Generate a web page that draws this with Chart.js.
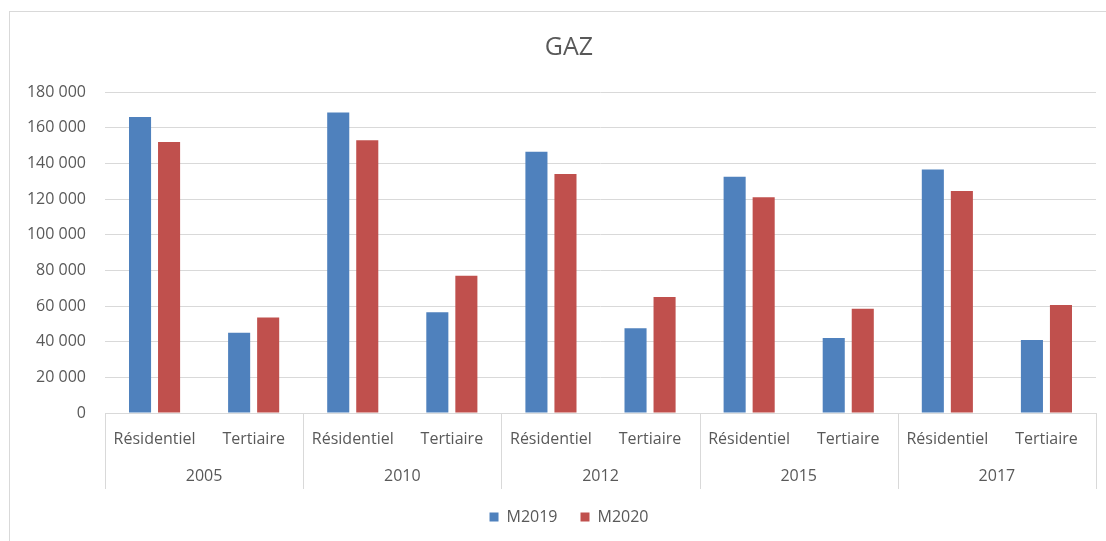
<!DOCTYPE html>
<html>
<head>
<meta charset="utf-8">
<script src="https://cdn.jsdelivr.net/npm/chart.js@4"></script>
<style>
    html, body { margin: 0; padding: 0; background: #ffffff; overflow: hidden; }
    #frame { position: absolute; left: 9px; top: 11px; width: 1200px; height: 600px; border-left: 1px solid #d9d9d9; border-top: 1px solid #d9d9d9; }
    #wrap { position: absolute; left: 0; top: 0; width: 1106px; height: 541px; }
</style>
</head>
<body>
<div id="frame"></div>
<div id="wrap"><canvas id="chart"></canvas></div>
<script>
var years = ['2005', '2010', '2012', '2015', '2017'];
var sectors = ['Résidentiel', 'Tertiaire'];
var m2019 = [166000, 45000, 168500, 56500, 146500, 47500, 132500, 42000, 136500, 41000];
var m2020 = [152000, 53500, 153000, 77000, 134000, 65000, 121000, 58500, 124500, 60500];
var yTicks = [0, 20000, 40000, 60000, 80000, 100000, 120000, 140000, 160000, 180000];

var textColor = '#595959';
var lineColor = '#d9d9d9';
var fontName = '"Open Sans", "Noto Sans", sans-serif';

// one label per bar pair: sector under each year
var labels = [];
for (var i = 0; i < years.length; i++) {
    for (var j = 0; j < sectors.length; j++) {
        labels.push(sectors[j]);
    }
}

function formatThousands(v) {
    return String(v).replace(/\B(?=(\d{3})+(?!\d))/g, ' ');
}

function fixHeight(h) {
    return function (scale) { scale.height = h; };
}

function fixWidth(w) {
    return function (scale) { scale.width = w; };
}

// vertical separators between the year groups
var groupLines = {
    id: 'groupLines',
    afterDraw: function (chart) {
        var ctx = chart.ctx;
        var xs = chart.scales.x2;
        var top = chart.chartArea.bottom;
        var bottom = xs.bottom + 3;
        var pos = [xs.left];
        for (var i = 1; i < years.length; i++) {
            pos.push((xs.getPixelForTick(i - 1) + xs.getPixelForTick(i)) / 2);
        }
        pos.push(xs.right);

        ctx.save();
        ctx.strokeStyle = lineColor;
        ctx.lineWidth = 1;
        for (var k = 0; k < pos.length; k++) {
            var x = Math.round(pos[k]) + 0.5;
            ctx.beginPath();
            ctx.moveTo(x, top);
            ctx.lineTo(x, bottom);
            ctx.stroke();
        }
        ctx.restore();
    }
};

new Chart(document.getElementById('chart'), {
    type: 'bar',
    data: {
        labels: labels,
        datasets: [
            {label: 'M2019', data: m2019, backgroundColor: '#4f81bd', categoryPercentage: 0.586, barPercentage: 0.76},
            {label: 'M2020', data: m2020, backgroundColor: '#c0504d', categoryPercentage: 0.586, barPercentage: 0.76}
        ]
    },
    options: {
        responsive: true,
        maintainAspectRatio: false,
        animation: false,
        // right padding is negative so title and legend centre like the original
        layout: {padding: {left: 20, right: -12, top: 0, bottom: 6}},
        plugins: {
            title: {
                display: true,
                text: 'GAZ',
                color: textColor,
                font: {family: fontName, size: 25, weight: 'normal'},
                padding: {top: 33, bottom: 29}
            },
            legend: {
                position: 'bottom',
                labels: {
                    color: textColor,
                    font: {family: fontName, size: 16},
                    boxWidth: 9,
                    boxHeight: 9,
                    padding: 23
                }
            },
            tooltip: {enabled: false}
        },
        scales: {
            x: {
                position: 'bottom',
                afterFit: fixHeight(36),
                grid: {display: false, drawTicks: false},
                border: {display: true, color: lineColor},
                ticks: {color: textColor, font: {family: fontName, size: 16}, padding: 17, maxRotation: 0, autoSkip: false}
            },
            x2: {
                type: 'category',
                position: 'bottom',
                labels: years,
                offset: true,
                afterFit: fixHeight(37),
                grid: {display: false, drawTicks: false},
                border: {display: false},
                ticks: {color: textColor, font: {family: fontName, size: 16}, padding: 18, maxRotation: 0}
            },
            y: {
                min: 0,
                max: 180000,
                afterBuildTicks: function (scale) {
                    scale.ticks = yTicks.map(function (v) { return {value: v}; });
                },
                afterFit: fixWidth(85),
                grid: {color: lineColor, drawTicks: false},
                border: {display: false},
                ticks: {
                    color: textColor,
                    font: {family: fontName, size: 16},
                    padding: 19,
                    callback: function (v) { return formatThousands(v); }
                }
            },
            // empty spacer on the right
            yr: {
                type: 'linear',
                position: 'right',
                afterFit: fixWidth(22),
                grid: {display: false, drawTicks: false},
                border: {display: false},
                ticks: {display: false}
            }
        }
    },
    plugins: [groupLines]
});
</script>
</body>
</html>
